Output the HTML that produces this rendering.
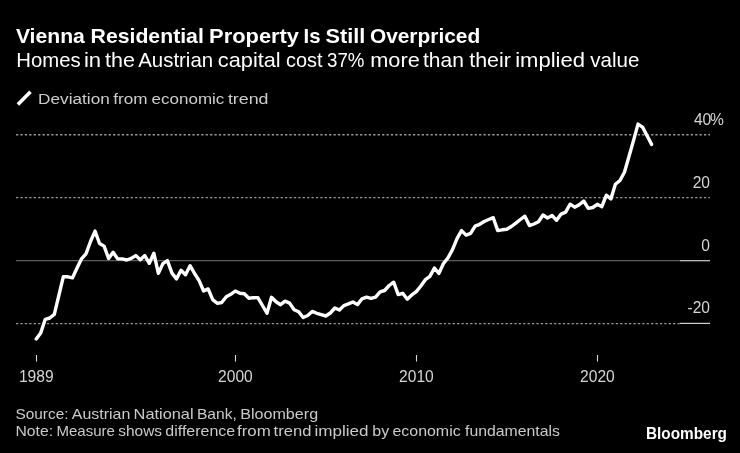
<!DOCTYPE html>
<html><head><meta charset="utf-8"><title>Vienna Residential Property Is Still Overpriced</title>
<style>
html,body{margin:0;padding:0;background:#000;}
body{width:740px;height:453px;overflow:hidden;}
svg{display:block;will-change:transform;font-family:"Liberation Sans",sans-serif;}
</style></head><body>
<svg width="740" height="453" viewBox="0 0 740 453">
<rect width="740" height="453" fill="#000"/>
<text y="43.0" font-size="20.6" font-weight="bold" fill="#fff"><tspan x="15.90" textLength="68.90" lengthAdjust="spacingAndGlyphs">Vienna</tspan> <tspan x="90.60" textLength="113.20" lengthAdjust="spacingAndGlyphs">Residential</tspan> <tspan x="209.10" textLength="89.90" lengthAdjust="spacingAndGlyphs">Property</tspan> <tspan x="303.60" textLength="17.00" lengthAdjust="spacingAndGlyphs">Is</tspan> <tspan x="325.50" textLength="39.80" lengthAdjust="spacingAndGlyphs">Still</tspan> <tspan x="369.90" textLength="110.30" lengthAdjust="spacingAndGlyphs">Overpriced</tspan></text>
<text y="67.0" font-size="20.4" fill="#fff"><tspan x="16.30" textLength="64.43" lengthAdjust="spacingAndGlyphs">Homes</tspan> <tspan x="83.96" textLength="17.20" lengthAdjust="spacingAndGlyphs">in</tspan> <tspan x="105.00" textLength="29.89" lengthAdjust="spacingAndGlyphs">the</tspan> <tspan x="138.23" textLength="74.88" lengthAdjust="spacingAndGlyphs">Austrian</tspan> <tspan x="217.84" textLength="62.89" lengthAdjust="spacingAndGlyphs">capital</tspan> <tspan x="286.07" textLength="36.47" lengthAdjust="spacingAndGlyphs">cost</tspan> <tspan x="327.07" textLength="37.43" lengthAdjust="spacingAndGlyphs">37%</tspan> <tspan x="370.15" textLength="49.62" lengthAdjust="spacingAndGlyphs">more</tspan> <tspan x="423.00" textLength="40.83" lengthAdjust="spacingAndGlyphs">than</tspan> <tspan x="469.27" textLength="41.65" lengthAdjust="spacingAndGlyphs">their</tspan> <tspan x="515.16" textLength="69.82" lengthAdjust="spacingAndGlyphs">implied</tspan> <tspan x="590.31" textLength="49.15" lengthAdjust="spacingAndGlyphs">value</tspan></text>
<line x1="17.9" y1="104.4" x2="30.5" y2="91.7" stroke="#fff" stroke-width="3.6"/>
<text y="103.7" font-size="15.5" fill="#cdcdcd"><tspan x="38.10" textLength="71.72" lengthAdjust="spacingAndGlyphs">Deviation</tspan> <tspan x="113.28" textLength="34.28" lengthAdjust="spacingAndGlyphs">from</tspan> <tspan x="151.62" textLength="72.73" lengthAdjust="spacingAndGlyphs">economic</tspan> <tspan x="227.91" textLength="40.64" lengthAdjust="spacingAndGlyphs">trend</tspan></text>
<g stroke="#989898" stroke-width="1.4" stroke-dasharray="2.3 2.11" fill="none">
<line x1="16" y1="134.7" x2="710" y2="134.7"/>
<line x1="16" y1="197.6" x2="710" y2="197.6"/>
<line x1="16" y1="323.6" x2="680" y2="323.6"/>
</g>
<line x1="16" y1="260.7" x2="680" y2="260.7" stroke="#5c5c5c" stroke-width="1.3"/>
<line x1="680" y1="260.7" x2="710" y2="260.7" stroke="#cfcfcf" stroke-width="1.2"/>
<line x1="680" y1="323.4" x2="710" y2="323.4" stroke="#cfcfcf" stroke-width="1.2"/>
<g font-size="15.6" fill="#d4d4d4" text-anchor="end">
<text x="711.3" y="125">40</text>
<text x="710" y="187.9">20</text>
<text x="710" y="250.8">0</text>
<text x="710" y="313.2">-20</text>
</g>
<text x="709.9" y="125" font-size="15.6" fill="#d4d4d4">%</text>
<polyline points="36.20,338.9 40.73,332.9 45.25,319.3 49.78,318.0 54.30,314.4 58.83,295.5 63.35,276.6 67.88,276.8 72.40,277.9 76.93,268.3 81.45,258.9 85.98,253.9 90.50,241.5 95.03,231.1 99.55,243.5 104.08,246.1 108.60,258.4 113.13,252.3 117.65,258.9 122.18,258.9 126.70,260.0 131.23,258.4 135.75,255.6 140.28,259.7 144.80,255.6 149.33,263.3 153.85,253.2 158.38,273.4 162.90,263.6 167.43,260.6 171.95,273.1 176.48,278.9 181.00,270.3 185.53,274.8 190.05,265.7 194.57,273.5 199.10,280.6 203.62,291.0 208.15,288.9 212.68,299.6 217.20,303.3 221.73,302.5 226.25,296.7 230.78,294.3 235.30,291.0 239.83,293.3 244.35,293.8 248.88,298.3 253.40,297.6 257.93,297.8 262.45,305.5 266.98,313.2 271.50,297.3 276.03,301.8 280.55,304.7 285.08,301.1 289.60,303.1 294.12,309.7 298.65,311.7 303.18,317.5 307.70,315.5 312.23,311.4 316.75,313.3 321.28,314.7 325.80,316.0 330.32,313.0 334.85,308.0 339.38,310.0 343.90,305.6 348.43,303.9 352.95,302.0 357.48,304.6 362.00,298.8 366.53,297.2 371.05,298.4 375.57,297.1 380.10,291.8 384.62,290.5 389.15,285.5 393.68,282.2 398.20,294.6 402.73,293.3 407.25,299.2 411.78,294.9 416.30,291.6 420.83,286.0 425.35,279.7 429.88,276.4 434.40,268.1 438.93,273.4 443.45,263.5 447.98,257.9 452.50,249.6 457.03,238.7 461.55,230.6 466.08,235.1 470.60,233.4 475.12,226.1 479.65,224.3 484.18,221.5 488.70,219.5 493.23,217.7 497.75,230.6 502.28,229.8 506.80,229.3 511.33,226.5 515.85,223.1 520.38,219.5 524.90,216.2 529.43,225.6 533.95,224.0 538.48,221.8 543.00,215.0 547.53,218.0 552.05,215.5 556.58,220.3 561.10,214.1 565.63,212.1 570.15,204.2 574.68,207.2 579.20,204.7 583.73,201.0 588.25,208.3 592.78,207.5 597.30,204.3 601.83,206.7 606.35,195.2 610.88,198.9 615.40,184.3 619.93,180.5 624.45,172.2 628.98,156.5 633.50,140.6 638.03,124.1 642.55,127.1 647.08,135.7 651.60,144.4" fill="none" stroke="#fff" stroke-width="3.4" stroke-linejoin="round" stroke-linecap="round"/>
<g stroke="#d8d8d8" stroke-width="1.1">
<line x1="36.5" y1="355" x2="36.5" y2="361.6"/>
<line x1="235.5" y1="355" x2="235.5" y2="361.6"/>
<line x1="416.5" y1="355" x2="416.5" y2="361.6"/>
<line x1="597.5" y1="355" x2="597.5" y2="361.6"/>
</g>
<g font-size="15.6" fill="#d4d4d4" text-anchor="middle">
<text x="36.3" y="382.3">1989</text>
<text x="235.4" y="382.3">2000</text>
<text x="416.4" y="382.3">2010</text>
<text x="597.4" y="382.3">2020</text>
</g>
<text y="418.7" font-size="15.0" fill="#cacaca"><tspan x="15.50" textLength="53.03" lengthAdjust="spacingAndGlyphs">Source:</tspan> <tspan x="71.88" textLength="58.41" lengthAdjust="spacingAndGlyphs">Austrian</tspan> <tspan x="133.63" textLength="59.98" lengthAdjust="spacingAndGlyphs">National</tspan> <tspan x="196.96" textLength="39.89" lengthAdjust="spacingAndGlyphs">Bank,</tspan> <tspan x="240.20" textLength="77.94" lengthAdjust="spacingAndGlyphs">Bloomberg</tspan></text>
<text y="435.8" font-size="15.0" fill="#cacaca"><tspan x="15.50" textLength="37.62" lengthAdjust="spacingAndGlyphs">Note:</tspan> <tspan x="56.44" textLength="58.51" lengthAdjust="spacingAndGlyphs">Measure</tspan> <tspan x="118.25" textLength="43.77" lengthAdjust="spacingAndGlyphs">shows</tspan> <tspan x="165.33" textLength="69.93" lengthAdjust="spacingAndGlyphs">difference</tspan> <tspan x="236.98" textLength="33.79" lengthAdjust="spacingAndGlyphs">from</tspan> <tspan x="273.58" textLength="37.81" lengthAdjust="spacingAndGlyphs">trend</tspan> <tspan x="314.40" textLength="54.09" lengthAdjust="spacingAndGlyphs">implied</tspan> <tspan x="372.30" textLength="16.89" lengthAdjust="spacingAndGlyphs">by</tspan> <tspan x="392.50" textLength="68.13" lengthAdjust="spacingAndGlyphs">economic</tspan> <tspan x="465.04" textLength="94.94" lengthAdjust="spacingAndGlyphs">fundamentals</tspan></text>
<text x="646" y="438.5" font-size="17.4" font-weight="bold" fill="#fff" textLength="81" lengthAdjust="spacingAndGlyphs">Bloomberg</text>
</svg>
</body></html>
